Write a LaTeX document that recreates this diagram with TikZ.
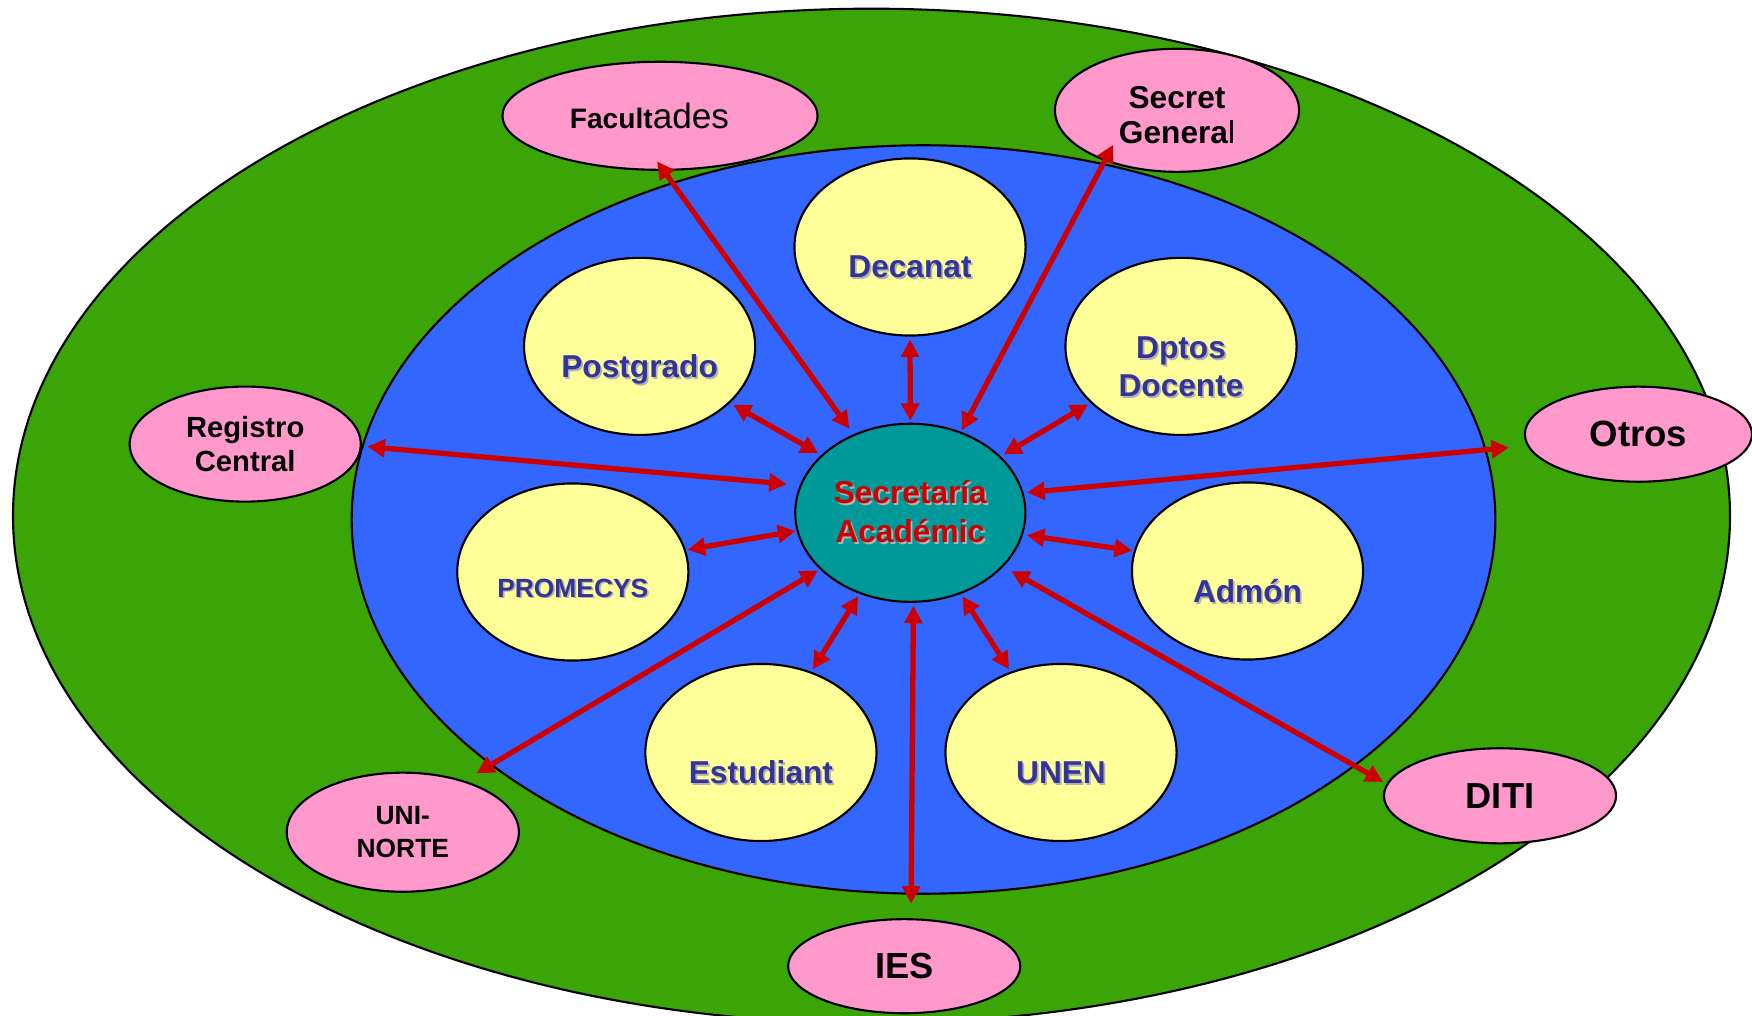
\documentclass[tikz,border=0pt]{standalone}
\usepackage{fontspec}
\setmainfont{Liberation Sans}
\usepackage{tikz}
\usetikzlibrary{arrows.meta,shapes.geometric}
\definecolor{ringgreen}{RGB}{59,165,8}
\definecolor{ringblue}{RGB}{51,102,255}
\definecolor{unityellow}{RGB}{255,255,153}
\definecolor{coreteal}{RGB}{0,153,153}
\definecolor{extpink}{RGB}{255,153,204}
\definecolor{linkred}{RGB}{204,0,0}
\definecolor{unitblue}{RGB}{51,51,153}
\tikzstyle{unit} = [ellipse, draw, line width=0.6pt, fill=unityellow, inner sep=0pt, minimum width=2.31cm, minimum height=1.77cm]
\tikzstyle{unitlabel} = [text=unitblue, font=\fontsize{9}{10.8}\selectfont\bfseries, align=center, yshift=-0.21cm]
\tikzstyle{core} = [ellipse, draw, line width=0.6pt, fill=coreteal, inner sep=0pt, minimum width=2.30cm, minimum height=1.78cm, text=linkred, font=\fontsize{9}{11.1}\selectfont\bfseries, align=center]
\tikzstyle{ext} = [ellipse, draw, line width=0.6pt, fill=extpink, inner sep=0pt, align=center]
\tikzset{link/.style = {
    color=linkred, line width=1.5pt,
    {Triangle[length=5pt,width=5pt]}-{Triangle[length=5pt,width=5pt]},
    shorten <=0.8pt, shorten >=0.8pt
  }
}
\newcommand{\shadowed}[1]{\leavevmode\rlap{\kern0.5pt\raisebox{-0.5pt}{\color{black!30}#1}}#1}

\begin{document}
\begin{tikzpicture}[x=0.01cm, y=-0.01cm]
            \useasboundingbox (0,0) rectangle (1752,1016);
            \clip (0,0) rectangle (1752,1016);

            % rings
            \draw[line width=0.6pt, fill=ringgreen] (871.5,516) ellipse (8.58cm and 5.07cm);
            \draw[line width=0.6pt, fill=ringblue] (923.5,519.5) ellipse (5.715cm and 3.74cm);

            % vertices
            \node[core] (sa) at (910.3,512.8) {\shadowed{Secretaría}\\\shadowed{Académic}};
            \node[unit, label={[unitlabel]center:\shadowed{Decanat}}] (dec) at (910,247) {};
            \node[unit, label={[unitlabel, yshift=-0.03cm]center:\shadowed{Postgrado}}] (post) at (639.6,346.4) {};
            \node[unit, label={[unitlabel]center:\shadowed{Dptos}\\\shadowed{Docente}}] (dpt) at (1181,346.4) {};
            \node[unit, label={[unitlabel, font=\fontsize{7.5}{9}\selectfont\bfseries, yshift=0.04cm]center:\shadowed{PROMECYS}}] (prom) at (572.8,572) {};
            \node[unit, label={[unitlabel]center:\shadowed{Admón}}] (adm) at (1247.5,571) {};
            \node[unit, label={[unitlabel]center:\shadowed{Estudiant}}] (est) at (760.9,752.5) {};
            \node[unit, label={[unitlabel]center:\shadowed{UNEN}}] (unen) at (1061,752.5) {};

            \node[ext, minimum width=3.15cm, minimum height=1.08cm, font=\fontsize{8}{9.6}\selectfont\bfseries] (fac) at (660,115.8) {Facult{\mdseries\fontsize{10}{12}\selectfont ades}\kern6pt};
            \node[ext, minimum width=2.44cm, minimum height=1.23cm, font=\fontsize{9}{10}\selectfont\bfseries] (sec) at (1177,110.3) {\rule{0pt}{9.2pt}Secret\\Genera{\mdseries l}};
            \node[ext, minimum width=2.31cm, minimum height=1.15cm, font=\fontsize{8.3}{9.5}\selectfont\bfseries] (reg) at (245.2,444.1) {Registro\\Central};
            \node[ext, minimum width=2.27cm, minimum height=0.95cm, font=\fontsize{10.4}{12}\selectfont\bfseries] (otr) at (1638.4,434.2) {Otros};
            \node[ext, minimum width=2.32cm, minimum height=1.19cm, font=\fontsize{7.5}{9.3}\selectfont\bfseries] (uni) at (402.8,832.2) {UNI-\\NORTE};
            \node[ext, minimum width=2.32cm, minimum height=0.94cm, font=\fontsize{10.3}{12}\selectfont\bfseries] (ies) at (904.2,966.2) {IES};
            \node[ext, minimum width=2.32cm, minimum height=0.95cm, font=\fontsize{10.3}{12}\selectfont\bfseries] (diti) at (1500,795.8) {DITI};

            %edges
            \draw[link, shorten <=-3.3pt, shorten >=1.9pt] (fac.274) -- (sa.126);
            \draw[link, shorten <=-5.2pt, shorten >=0.5pt] (sec.215) -- (sa.58);
            \draw[link, shorten >=0.5pt] (dec.270) -- (sa.90);
            \draw[link, shorten <=1pt, shorten >=1pt] (post.328) -- (sa.147);
            \draw[link, shorten >=1pt] (dpt.212) -- (sa.32);
            \draw[link, shorten <=1.6pt, shorten >=3.7pt] (reg.359) -- (sa.166);
            \draw[link, shorten <=5.2pt, shorten >=1pt] (otr.186) -- (sa.10);
            \draw[link, shorten <=0.5pt, shorten >=0.3pt] (prom.11) -- (sa.189);
            \draw[link, shorten <=0.5pt, shorten >=1.1pt] (adm.170) -- (sa.349);
            \draw[link, shorten <=4.1pt, shorten >=0.6pt] (uni.40) -- (sa.212);
            \draw[link] (est.58) -- (sa.238);
            \draw[link, shorten <=4.1pt] (ies.82) -- (sa.272);
            \draw[link] (unen.122) -- (sa.302);
            \draw[link, shorten <=1.1pt, shorten >=2.6pt] (diti.174) -- (sa.330);

\end{tikzpicture}
\end{document}
